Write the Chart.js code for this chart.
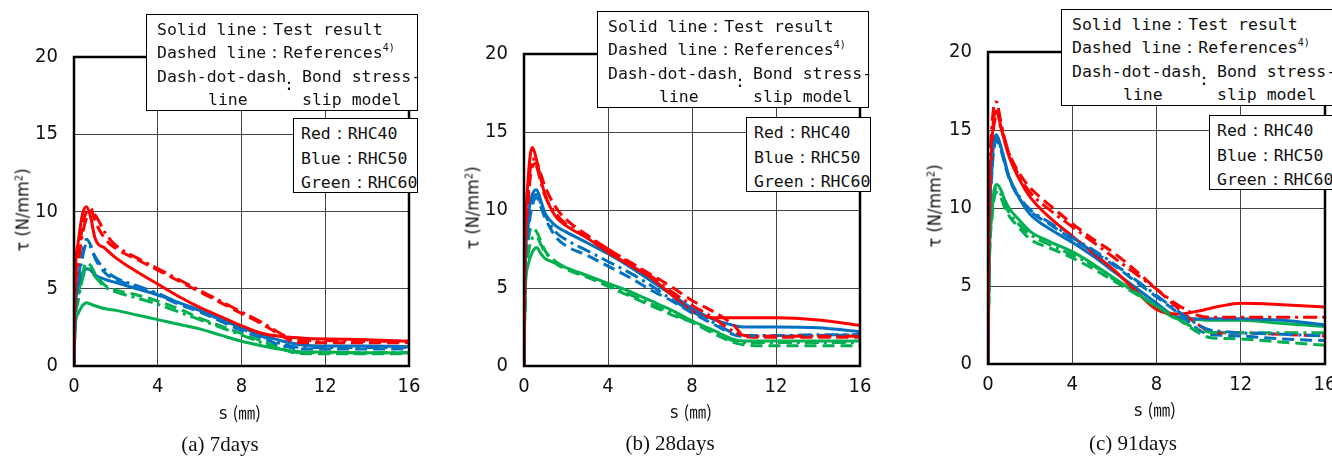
<!DOCTYPE html>
<html>
<head>
<meta charset="utf-8">
<script src="https://cdn.jsdelivr.net/npm/chart.js@4.4.0/dist/chart.umd.min.js"></script>
<style>
body{margin:0;width:1332px;height:456px;overflow:hidden;background:#fff;position:relative;}
canvas{position:absolute;top:0;}
.box{position:absolute;background:#fff;border:1.5px solid #000;box-sizing:border-box;}
.t{position:absolute;white-space:pre;font-family:'DejaVu Sans Mono',monospace;font-size:16.5px;line-height:20px;color:#111;}
.t sup{font-size:10px;vertical-align:7px;line-height:0;}
.ytitle{position:absolute;white-space:nowrap;font-family:'Liberation Sans Narrow','DejaVu Sans Condensed',sans-serif;font-size:18px;color:#111;transform:translate(-50%,-50%) rotate(-90deg);}
.ytitle sup{font-size:11px;vertical-align:6px;line-height:0;}
.xtitle{position:absolute;white-space:nowrap;font-family:'Liberation Sans Narrow','DejaVu Sans Condensed',sans-serif;font-size:18px;color:#111;transform:translate(-50%,-50%);}
.xtitle span{font-family:'Noto Sans CJK JP';font-size:17px;}
.cap{position:absolute;white-space:nowrap;font-family:'Liberation Serif','Times New Roman',serif;font-size:21px;color:#111;transform:translate(-50%,-50%);}
</style>
</head>
<body>
<canvas id="c7" width="444" height="456" style="left:0"></canvas>
<canvas id="c28" width="444" height="456" style="left:444px"></canvas>
<canvas id="c91" width="460" height="456" style="left:888px"></canvas>
<div id="overlay"></div>
<script>
// slip s (mm) - shared sample points
const slip = [0, 0.05, 0.2, 0.4, 0.6, 0.8, 1, 1.5, 2, 3, 4, 5, 6, 7, 8, 9, 10, 10.5, 11, 12, 14, 16];
const xTicks = [0, 4, 8, 12, 16];
const yTicks = [0, 5, 10, 15, 20];

// (a) 7days
const red7Test   = [0, 5.5, 8.0, 9.8, 10.3, 9.6, 8.3, 7.6, 7.0, 6.1, 5.3, 4.5, 3.8, 3.2, 2.6, 2.1, 1.9, 1.85, 1.8, 1.75, 1.7, 1.6];
const red7Ref    = [0, 4.5, 7.0, 9.0, 10.0, 10.2, 9.4, 8.2, 7.6, 6.9, 6.2, 5.5, 4.8, 4.1, 3.4, 2.7, 1.9, 1.55, 1.5, 1.5, 1.5, 1.5];
const red7Model  = [0, 4.0, 6.5, 8.5, 9.6, 10.0, 9.8, 8.6, 7.8, 7.0, 6.3, 5.6, 4.9, 4.2, 3.5, 2.8, 2.0, 1.7, 1.65, 1.65, 1.6, 1.6];
const blue7Test  = [0, 3.5, 5.0, 5.9, 6.3, 6.2, 5.9, 5.6, 5.4, 5.0, 4.6, 4.1, 3.6, 3.0, 2.5, 2.0, 1.6, 1.45, 1.35, 1.3, 1.3, 1.25];
const blue7Ref   = [0, 3.0, 5.5, 7.3, 8.2, 7.8, 7.0, 6.0, 5.6, 5.1, 4.6, 4.0, 3.5, 2.9, 2.3, 1.8, 1.3, 1.15, 1.1, 1.1, 1.1, 1.1];
const blue7Model = [0, 3.0, 5.2, 7.0, 7.9, 7.7, 7.1, 6.2, 5.7, 5.2, 4.7, 4.1, 3.6, 3.0, 2.4, 1.9, 1.4, 1.25, 1.2, 1.2, 1.2, 1.2];
const green7Test = [0, 2.5, 3.4, 3.9, 4.1, 4.0, 3.9, 3.7, 3.6, 3.3, 3.0, 2.7, 2.4, 2.0, 1.6, 1.3, 1.05, 0.95, 0.9, 0.9, 0.85, 0.85];
const green7Ref  = [0, 2.8, 4.5, 5.9, 6.7, 6.5, 6.0, 5.2, 4.9, 4.6, 4.2, 3.7, 3.1, 2.6, 2.1, 1.6, 1.1, 0.85, 0.8, 0.8, 0.8, 0.8];
const green7Model= [0, 2.6, 4.2, 5.6, 6.3, 6.2, 5.8, 5.1, 4.8, 4.4, 4.0, 3.5, 3.0, 2.5, 2.0, 1.5, 1.05, 0.9, 0.85, 0.85, 0.85, 0.85];

// (b) 28days
const red28Test   = [0, 7.0, 12.0, 14.0, 13.2, 12.0, 11.0, 9.6, 9.0, 8.2, 7.3, 6.5, 5.7, 4.6, 3.5, 3.1, 3.1, 3.1, 3.1, 3.1, 2.95, 2.6];
const red28Ref    = [0, 6.0, 10.5, 12.8, 13.0, 12.3, 11.5, 10.2, 9.4, 8.4, 7.5, 6.7, 5.9, 5.1, 4.2, 3.5, 2.6, 1.9, 1.85, 1.85, 1.85, 1.85];
const red28Model  = [0, 6.5, 11.0, 13.3, 12.8, 11.8, 10.9, 9.8, 9.1, 8.3, 7.5, 6.6, 5.8, 4.8, 3.9, 3.1, 2.2, 1.95, 1.9, 1.9, 1.9, 1.9];
const blue28Test  = [0, 5.5, 9.5, 11.0, 11.3, 10.6, 9.8, 9.0, 8.6, 7.9, 7.2, 6.4, 5.5, 4.6, 3.7, 3.0, 2.6, 2.5, 2.5, 2.5, 2.45, 2.2];
const blue28Ref   = [0, 5.0, 8.5, 10.3, 10.8, 10.2, 9.5, 8.3, 7.7, 7.1, 6.4, 5.7, 4.9, 4.2, 3.4, 2.7, 2.0, 1.9, 1.9, 1.9, 1.95, 2.0];
const blue28Model = [0, 5.3, 9.0, 10.7, 11.0, 10.4, 9.7, 8.6, 8.1, 7.4, 6.7, 6.0, 5.2, 4.3, 3.5, 2.8, 2.1, 1.95, 1.95, 1.95, 2.0, 2.0];
const green28Test = [0, 4.5, 6.5, 7.3, 7.6, 7.2, 6.9, 6.6, 6.3, 5.8, 5.3, 4.8, 4.2, 3.6, 2.9, 2.3, 1.7, 1.6, 1.6, 1.6, 1.6, 1.6];
const green28Ref  = [0, 5.0, 8.0, 8.9, 8.6, 8.0, 7.4, 6.6, 6.2, 5.7, 5.1, 4.5, 3.9, 3.3, 2.8, 2.1, 1.5, 1.35, 1.3, 1.3, 1.3, 1.3];
const green28Model= [0, 4.8, 7.2, 8.2, 8.3, 7.8, 7.3, 6.7, 6.3, 5.8, 5.2, 4.6, 4.0, 3.4, 2.8, 2.2, 1.6, 1.5, 1.5, 1.5, 1.5, 1.5];

// (c) 91days
const red91Test   = [0, 8.0, 14.5, 16.2, 15.3, 14.2, 13.3, 11.8, 10.7, 9.3, 8.2, 7.1, 6.0, 4.7, 3.5, 3.2, 3.4, 3.55, 3.7, 3.9, 3.8, 3.65];
const red91Ref    = [0, 8.0, 14.0, 15.7, 15.2, 14.3, 13.5, 12.2, 11.3, 10.1, 9.0, 8.0, 7.1, 6.0, 4.8, 3.6, 2.5, 2.1, 2.0, 2.0, 1.9, 1.8];
const red91Model  = [0, 9.0, 15.5, 16.8, 15.6, 14.4, 13.5, 12.0, 11.0, 9.8, 8.8, 7.8, 6.8, 5.8, 4.8, 3.8, 3.1, 3.0, 3.0, 3.0, 3.0, 3.0];
const blue91Test  = [0, 7.5, 13.0, 14.7, 14.0, 13.0, 12.0, 10.6, 9.6, 8.6, 7.8, 6.9, 5.9, 4.9, 3.9, 3.0, 2.9, 2.9, 2.9, 2.9, 2.8, 2.5];
const blue91Ref   = [0, 7.0, 12.5, 14.3, 13.8, 12.8, 11.9, 10.6, 9.8, 8.9, 8.0, 7.2, 6.3, 5.3, 4.3, 3.3, 2.2, 1.9, 1.85, 1.8, 1.6, 1.5];
const blue91Model = [0, 7.2, 12.8, 14.5, 13.9, 12.9, 12.0, 10.7, 9.9, 9.0, 8.1, 7.3, 6.4, 5.4, 4.4, 3.4, 2.5, 2.2, 2.1, 2.0, 1.9, 1.8];
const green91Test = [0, 6.0, 10.0, 11.5, 11.2, 10.5, 10.0, 9.2, 8.5, 7.8, 7.2, 6.4, 5.5, 4.6, 3.7, 2.9, 2.85, 2.8, 2.8, 2.8, 2.6, 2.4];
const green91Ref  = [0, 5.5, 9.5, 11.0, 10.7, 10.0, 9.5, 8.7, 8.0, 7.4, 6.8, 6.1, 5.3, 4.5, 3.7, 2.9, 2.0, 1.7, 1.65, 1.6, 1.4, 1.2];
const green91Model= [0, 5.8, 9.8, 11.2, 10.9, 10.2, 9.7, 8.9, 8.3, 7.6, 7.0, 6.3, 5.4, 4.6, 3.7, 2.9, 2.2, 2.05, 2.0, 2.0, 2.0, 2.0];

const RED = '#ff0000', BLUE = '#0070c0', GREEN = '#00b050';
const tickFont = {family: "'Liberation Sans Narrow','DejaVu Sans Condensed',sans-serif", size: 20};

function line(vals, color, kind) {
    var dash = kind === 'ref' ? [12, 6] : (kind === 'model' ? [14, 5, 3, 5] : []);
    return {
        data: slip.map(function (s, i) { return {x: s, y: vals[i]}; }),
        borderColor: color,
        borderWidth: 3,
        borderDash: dash,
        pointRadius: 0,
        cubicInterpolationMode: 'monotone',
        fill: false
    };
}

// thick frame round the plot area
var frame = {
    id: 'frame',
    afterDraw: function (chart) {
        var a = chart.chartArea, ctx = chart.ctx;
        ctx.save();
        ctx.strokeStyle = '#000';
        ctx.lineWidth = 2.5;
        ctx.strokeRect(a.left, a.top, a.right - a.left, a.bottom - a.top);
        ctx.restore();
    }
};

function makeChart(id, sets, yWidth, pad) {
    new Chart(document.getElementById(id), {
        type: 'line',
        data: {datasets: sets},
        options: {
            responsive: false,
            animation: false,
            devicePixelRatio: 1,
            layout: {padding: pad},
            plugins: {legend: {display: false}, tooltip: {enabled: false}},
            scales: {
                x: {
                    type: 'linear', min: 0, max: 16,
                    afterBuildTicks: function (s) { s.ticks = xTicks.map(function (v) { return {value: v}; }); },
                    ticks: {padding: 9, color: '#111', font: tickFont, maxRotation: 0},
                    grid: {color: '#444', lineWidth: 1, drawTicks: false},
                    border: {display: false},
                    afterFit: function (s) { s.height = 40; }
                },
                y: {
                    type: 'linear', min: 0, max: 20,
                    afterBuildTicks: function (s) { s.ticks = yTicks.map(function (v) { return {value: v}; }); },
                    ticks: {padding: 16, color: '#111', font: tickFont},
                    grid: {color: '#444', lineWidth: 1, drawTicks: false},
                    border: {display: false},
                    afterFit: function (s) { s.width = yWidth; }
                }
            }
        },
        plugins: [frame]
    });
}

makeChart('c7', [
    line(red7Model, RED, 'model'), line(blue7Model, BLUE, 'model'), line(green7Model, GREEN, 'model'),
    line(red7Ref, RED, 'ref'), line(blue7Ref, BLUE, 'ref'), line(green7Ref, GREEN, 'ref'),
    line(red7Test, RED, 'test'), line(blue7Test, BLUE, 'test'), line(green7Test, GREEN, 'test')
], 74, {left: 0, right: 35, top: 57, bottom: 50});

makeChart('c28', [
    line(red28Model, RED, 'model'), line(blue28Model, BLUE, 'model'), line(green28Model, GREEN, 'model'),
    line(red28Ref, RED, 'ref'), line(blue28Ref, BLUE, 'ref'), line(green28Ref, GREEN, 'ref'),
    line(red28Test, RED, 'test'), line(blue28Test, BLUE, 'test'), line(green28Test, GREEN, 'test')
], 80, {left: 0, right: 28, top: 54, bottom: 50});

makeChart('c91', [
    line(red91Model, RED, 'model'), line(blue91Model, BLUE, 'model'), line(green91Model, GREEN, 'model'),
    line(red91Ref, RED, 'ref'), line(blue91Ref, BLUE, 'ref'), line(green91Ref, GREEN, 'ref'),
    line(red91Test, RED, 'test'), line(blue91Test, BLUE, 'test'), line(green91Test, GREEN, 'test')
], 100, {left: 0, right: 23, top: 52, bottom: 52});

// texts and legend boxes
var overlay = document.getElementById('overlay');
function add(cls, html, style) {
    var d = document.createElement('div');
    d.className = cls;
    d.innerHTML = html;
    d.setAttribute('style', style);
    overlay.appendChild(d);
    return d;
}
function txt(parent, html, left, top) {
    var d = document.createElement('div');
    d.className = 't';
    d.innerHTML = html;
    d.style.left = left + 'px';
    d.style.top = top + 'px';
    parent.appendChild(d);
}
function legendBoxes(x1, y1, x2, y2) {
    var b1 = add('box', '', 'left:' + x1 + 'px;top:' + y1 + 'px;width:272px;height:97px;');
    txt(b1, 'Solid line：Test result', 10, 5);
    txt(b1, 'Dashed line：References<sup>4)</sup>', 10, 28);
    txt(b1, 'Dash-dot-dash', 10, 52);
    txt(b1, ':', 137, 60);
    txt(b1, 'Bond stress-', 155, 52);
    txt(b1, 'line', 61, 75);
    txt(b1, 'slip model', 155, 75);
    var b2 = add('box', '', 'left:' + x2 + 'px;top:' + y2 + 'px;width:125px;height:75px;');
    txt(b2, 'Red：RHC40', 7, 5);
    txt(b2, 'Blue：RHC50', 7, 30);
    txt(b2, 'Green：RHC60', 7, 54);
}
legendBoxes(146, 14, 293, 118);
legendBoxes(597, 11, 746, 117);
legendBoxes(1061, 9, 1209, 115);

var yT = 'τ (N/mm<sup>2</sup>)';
add('ytitle', yT, 'left:22px;top:210px;');
add('ytitle', yT, 'left:472px;top:208px;');
add('ytitle', yT, 'left:934px;top:206px;');

var xT = 's <span>(㎜)</span>';
add('xtitle', xT, 'left:240px;top:411px;');
add('xtitle', xT, 'left:691px;top:410px;');
add('xtitle', xT, 'left:1155px;top:408px;');

add('cap', '(a) 7days', 'left:220px;top:444px;');
add('cap', '(b) 28days', 'left:670px;top:443px;');
add('cap', '(c) 91days', 'left:1133px;top:443px;');
</script>
</body>
</html>
